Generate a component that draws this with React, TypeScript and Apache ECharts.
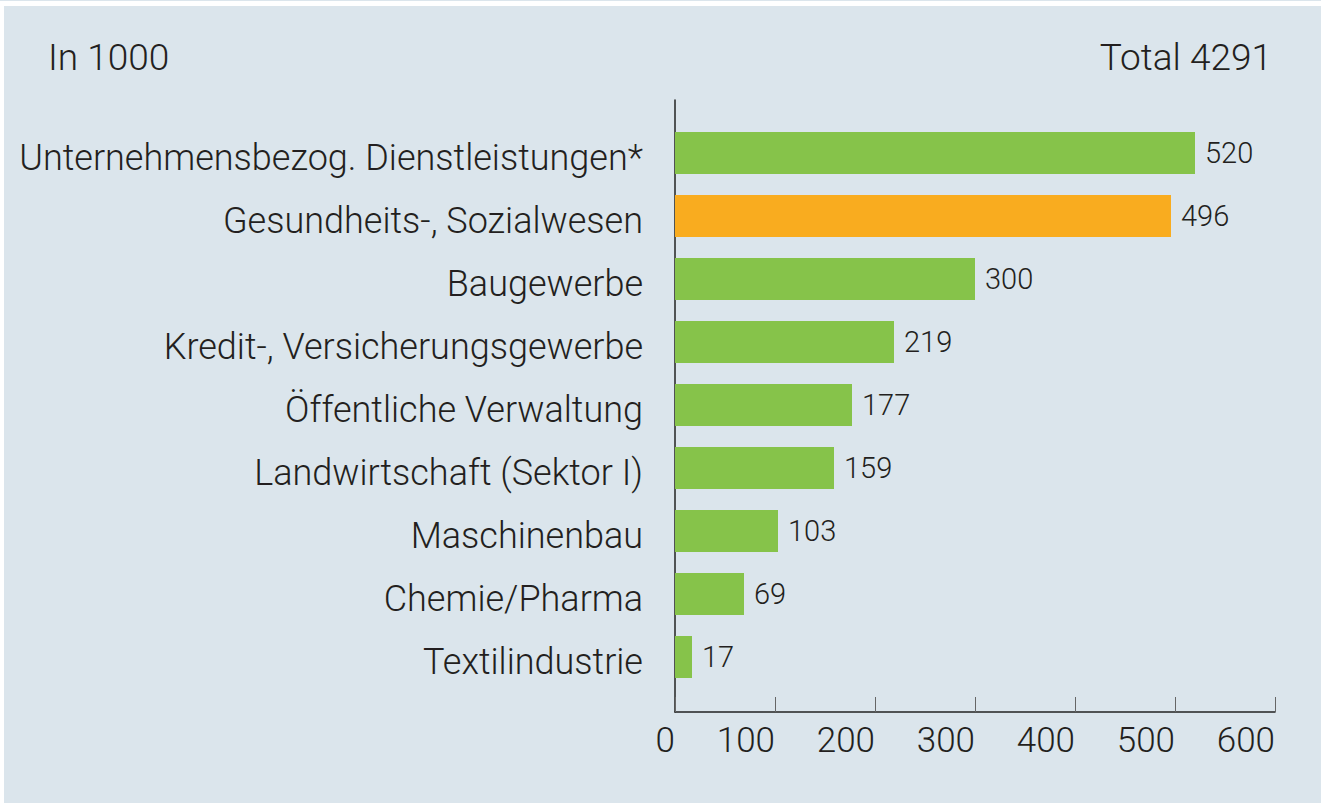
import React, { useEffect, useRef } from "react";
import * as echarts from "echarts";

const categories = [
  "Unternehmensbezog. Dienstleistungen*",
  "Gesundheits-, Sozialwesen",
  "Baugewerbe",
  "Kredit-, Versicherungsgewerbe",
  "Öffentliche Verwaltung",
  "Landwirtschaft (Sektor I)",
  "Maschinenbau",
  "Chemie/Pharma",
  "Textilindustrie",
];
const values = [520, 496, 300, 219, 177, 159, 103, 69, 17];
const highlighted = ["Gesundheits-, Sozialwesen"];
const unitLabel = "In 1000";
const totalLabel = "Total 4291";
const xTicks = [0, 100, 200, 300, 400, 500, 600];

const GREEN = "#86c34a";
const ORANGE = "#f9ac1f";
const BG = "#dbe5ec";
const TEXT = "#231f20";
const FONT = "Roboto, 'Liberation Sans', Arial, sans-serif";
const W = 300;

export default function App() {
  const ref = useRef<HTMLDivElement>(null);
  useEffect(() => {
    if (!ref.current) return;
    const chart = echarts.init(ref.current, null, { renderer: "svg" });
    const xMin = xTicks[0];
    const xMax = xTicks[xTicks.length - 1];
    const interval = xTicks[1] - xTicks[0];
    chart.setOption({
      animation: false,
      backgroundColor: BG,
      textStyle: { fontFamily: FONT, color: TEXT },
      title: [
        {
          text: unitLabel,
          left: 39,
          top: 28,
          textStyle: { fontFamily: FONT, fontSize: 37, fontWeight: W, color: TEXT },
        },
        {
          text: totalLabel,
          right: 44,
          top: 28,
          textStyle: { fontFamily: FONT, fontSize: 37, fontWeight: W, color: TEXT },
        },
      ],
      grid: [
        { left: 671, width: 600, top: 115.5, height: 567, containLabel: false },
        { left: 671, width: 600, top: 94, height: 612, containLabel: false },
      ],
      xAxis: [
        {
          type: "value",
          gridIndex: 0,
          min: xMin,
          max: xMax,
          interval,
          show: false,
        },
        {
          type: "value",
          gridIndex: 1,
          min: xMin,
          max: xMax,
          interval,
          axisLine: { show: true, lineStyle: { color: "#222", width: 1.5 } },
          axisTick: { show: true, inside: true, length: 15, lineStyle: { color: "#666", width: 1 } },
          splitLine: { show: false },
          axisLabel: {
            fontFamily: FONT,
            fontSize: 35,
            fontWeight: W,
            color: TEXT,
            align: "right",
            margin: 11,
          },
        },
      ],
      yAxis: [
        {
          type: "category",
          gridIndex: 0,
          data: categories,
          inverse: true,
          axisLine: { show: false },
          axisTick: { show: false },
          axisLabel: {
            fontFamily: FONT,
            fontSize: 36,
            fontWeight: W,
            color: TEXT,
            margin: 32,
            verticalAlign: "top",
            lineHeight: 10,
          },
        },
        {
          type: "value",
          gridIndex: 1,
          min: 0,
          max: 1,
          axisLine: { show: true, onZero: false, lineStyle: { color: "#222", width: 1.5 } },
          axisTick: { show: false },
          axisLabel: { show: false },
          splitLine: { show: false },
        },
      ],
      series: [
        {
          type: "bar",
          xAxisIndex: 0,
          yAxisIndex: 0,
          barWidth: 42,
          data: values.map((v, i) => ({
            value: v,
            itemStyle: { color: highlighted.includes(categories[i]) ? ORANGE : GREEN },
          })),
          label: {
            show: true,
            position: "right",
            distance: 10,
            fontFamily: FONT,
            fontSize: 29,
            fontWeight: W,
            color: TEXT,
          },
        },
      ],
    });
    return () => chart.dispose();
  }, []);
  return (
    <div style={{ position: "absolute", left: 0, top: 0, width: 1321, height: 805, background: "#fff" }}>
      <div style={{ position: "absolute", left: 0, top: 0, width: 1321, height: 1, background: BG }} />
      <div ref={ref} style={{ position: "absolute", left: 4, top: 6, width: 1317, height: 797 }} />
    </div>
  );
}
